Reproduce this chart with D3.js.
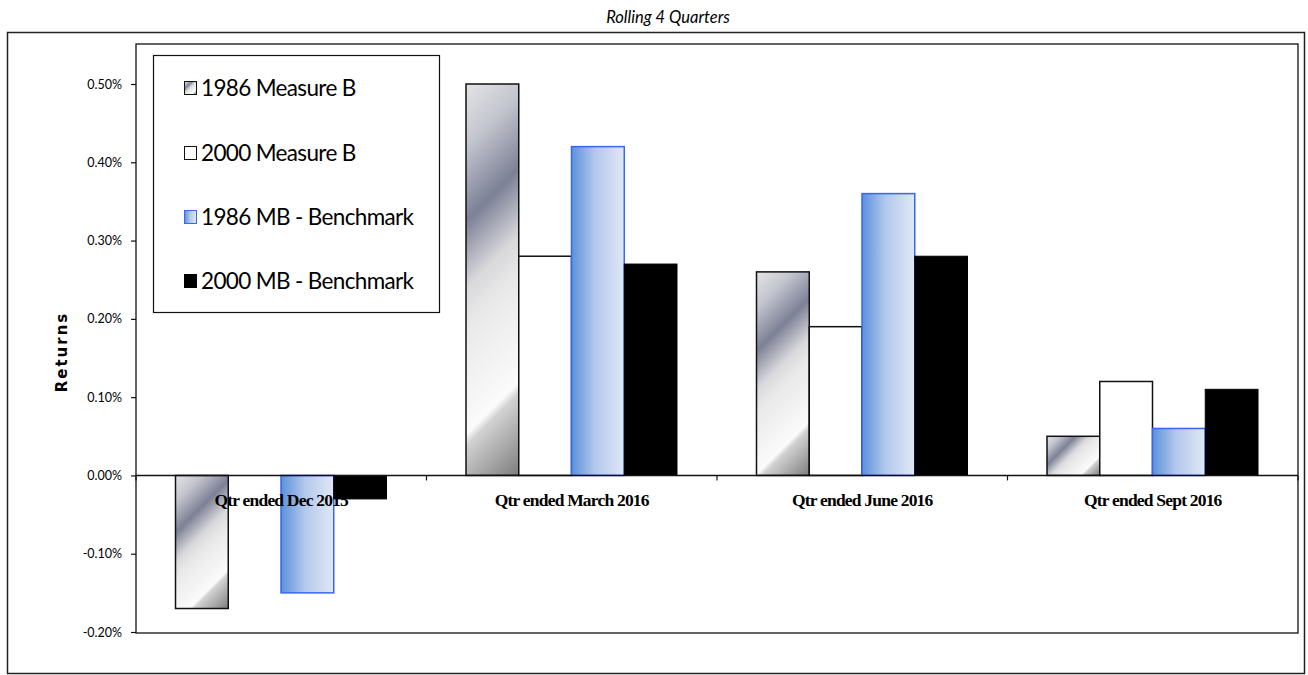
<!DOCTYPE html>
<html>
<head>
<meta charset="utf-8">
<script src="https://cdn.jsdelivr.net/npm/d3@7"></script>
<style>
  html, body { margin: 0; padding: 0; background: #fff; }
  svg { display: block; }
</style>
</head>
<body>
<svg id="chart" width="1308" height="675"></svg>
<script>
// Quarterly rolling returns (in percent)
const categories = ["Qtr ended Dec 2015", "Qtr ended March 2016", "Qtr ended June 2016", "Qtr ended Sept 2016"];
const seriesNames = ["1986 Measure B", "2000 Measure B", "1986 MB - Benchmark", "2000 MB - Benchmark"];
const measureB1986 = [-0.17, 0.50, 0.26, 0.05];
const measureB2000 = [0.00, 0.28, 0.19, 0.12];
const benchmark1986 = [-0.15, 0.42, 0.36, 0.06];
const benchmark2000 = [-0.03, 0.27, 0.28, 0.11];
const yTicks = [-0.2, -0.1, 0.0, 0.1, 0.2, 0.3, 0.4, 0.5];

const seriesValues = [measureB1986, measureB2000, benchmark1986, benchmark2000];

const svg = d3.select("#chart");
const defs = svg.append("defs");

const plot = { left: 136, top: 44, right: 1298, bottom: 633 };

// Outer chart frame
svg.append("rect")
  .attr("x", 7.5).attr("y", 32.5).attr("width", 1297).attr("height", 641)
  .attr("fill", "#fff").attr("stroke", "#222").attr("stroke-width", 1.5);

// Title
svg.append("text")
  .attr("x", 668).attr("y", 23)
  .attr("text-anchor", "middle")
  .attr("font-family", "Lato, 'Open Sans', sans-serif")
  .attr("font-style", "italic")
  .attr("font-size", 16.5)
  .attr("fill", "#000")
  .text("Rolling 4 Quarters");

// Scales
const y = d3.scaleLinear().domain([-0.2, 0.5]).range([632, 84]);
const x0 = d3.scaleBand().domain(categories).range([plot.left, plot.right]).padding(0);
const x1 = d3.scaleBand().domain(seriesNames).range([39.5, 250.5]).padding(0);

// Plot-area frame
svg.append("rect")
  .attr("x", plot.left).attr("y", plot.top)
  .attr("width", plot.right - plot.left).attr("height", plot.bottom - plot.top)
  .attr("fill", "none").attr("stroke", "#111").attr("stroke-width", 1.3);

// Y axis
const yAxis = d3.axisLeft(y)
  .tickValues(yTicks)
  .tickSize(5)
  .tickPadding(9)
  .tickFormat(d => d.toFixed(2) + "%");
const yg = svg.append("g").attr("transform", `translate(${plot.left},0)`).call(yAxis);
yg.select(".domain").remove();
yg.selectAll(".tick line").attr("stroke", "#111").attr("stroke-width", 1.2);
yg.selectAll(".tick text")
  .attr("font-family", "Lato, 'Open Sans', sans-serif")
  .attr("font-size", 12.5)
  .attr("fill", "#000");

// Axis title
svg.append("text")
  .attr("transform", `translate(67,352) rotate(-90)`)
  .attr("text-anchor", "middle")
  .attr("font-family", "'DejaVu Sans', sans-serif")
  .attr("font-weight", "bold")
  .attr("font-size", 15)
  .attr("letter-spacing", 2)
  .attr("fill", "#000")
  .text("Returns");

// Gradient helpers
function chromeGradient(id, gx, gy, w, h) {
  const d = (w + h) / 2;
  const g = defs.append("linearGradient")
    .attr("id", id)
    .attr("gradientUnits", "userSpaceOnUse")
    .attr("x1", gx).attr("y1", gy)
    .attr("x2", gx + d).attr("y2", gy + d);
  const stops = [
    [0, "#e4e4e6"], [0.14, "#c4c6cf"], [0.31, "#7d8196"], [0.46, "#d9d9dc"],
    [0.55, "#e9e9e9"], [0.79, "#fbfbfb"], [0.815, "#d2d2d2"], [1, "#7d7d7d"]
  ];
  stops.forEach(([o, c]) => g.append("stop").attr("offset", o).attr("stop-color", c));
}
function blueGradient(id) {
  const g = defs.append("linearGradient")
    .attr("id", id)
    .attr("x1", 0).attr("y1", 0).attr("x2", 1).attr("y2", 0);
  [[0, "#5b91db"], [0.45, "#b3c8ec"], [1, "#e0e8f6"]]
    .forEach(([o, c]) => g.append("stop").attr("offset", o).attr("stop-color", c));
}
blueGradient("blueGrad");

const seriesStyle = [
  { fill: (id) => `url(#${id})`, stroke: "#111", sw: 1.5 },
  { fill: () => "#fff", stroke: "#111", sw: 1.5 },
  { fill: () => "url(#blueGrad)", stroke: "#3568f2", sw: 1.5 },
  { fill: () => "#000", stroke: "#000", sw: 1 }
];

// Bars
const barData = [];
categories.forEach((c, ci) => {
  seriesNames.forEach((s, si) => {
    barData.push({ cat: c, ci, series: s, si, value: seriesValues[si][ci] });
  });
});

const bars = svg.append("g").attr("class", "bars");
barData.forEach(d => {
  const bx = x0(d.cat) + x1(d.series);
  const bw = x1.bandwidth();
  const top = Math.min(y(d.value), y(0));
  const bh = Math.abs(y(d.value) - y(0));
  let fill;
  if (d.si === 0) {
    const gid = `chrome-${d.ci}`;
    chromeGradient(gid, bx, top, bw, bh);
    fill = seriesStyle[0].fill(gid);
  } else {
    fill = seriesStyle[d.si].fill();
  }
  bars.append("rect")
    .attr("x", bx).attr("y", top)
    .attr("width", bw).attr("height", bh)
    .attr("fill", fill)
    .attr("stroke", seriesStyle[d.si].stroke)
    .attr("stroke-width", seriesStyle[d.si].sw);
});

// Category axis at zero
svg.append("line")
  .attr("x1", plot.left).attr("x2", plot.right)
  .attr("y1", y(0)).attr("y2", y(0))
  .attr("stroke", "#111").attr("stroke-width", 1.5);
const catEdges = categories.map(c => x0(c)).concat([plot.right]);
svg.append("g").selectAll("line").data(catEdges).join("line")
  .attr("x1", d => d).attr("x2", d => d)
  .attr("y1", y(0)).attr("y2", y(0) + 5)
  .attr("stroke", "#111").attr("stroke-width", 1.2);

// Category labels
svg.append("g").selectAll("text").data(categories).join("text")
  .attr("x", d => x0(d) + x0.bandwidth() / 2)
  .attr("y", 506)
  .attr("text-anchor", "middle")
  .attr("font-family", "'Liberation Serif', 'Times New Roman', serif")
  .attr("font-weight", "bold")
  .attr("font-size", 17.5)
  .attr("letter-spacing", -0.8)
  .attr("fill", "#000")
  .text(d => d);

// Legend
const legend = svg.append("g");
legend.append("rect")
  .attr("x", 153.5).attr("y", 55.5).attr("width", 286).attr("height", 257)
  .attr("fill", "#fff").attr("stroke", "#111").attr("stroke-width", 1.2);
const rowY = [88, 153, 217, 281];
chromeGradient("chrome-legend", 184, rowY[0] - 6.5, 13, 13);
seriesNames.forEach((s, i) => {
  const fill = i === 0 ? "url(#chrome-legend)" : seriesStyle[i].fill();
  legend.append("rect")
    .attr("x", 184.5).attr("y", rowY[i] - 6.5)
    .attr("width", 12).attr("height", 13)
    .attr("fill", fill)
    .attr("stroke", seriesStyle[i].stroke)
    .attr("stroke-width", 1);
  legend.append("text")
    .attr("x", 201).attr("y", rowY[i])
    .attr("dy", "0.35em")
    .attr("font-family", "Lato, 'Open Sans', sans-serif")
    .attr("font-size", 22.5)
    .attr("letter-spacing", -0.65)
    .attr("fill", "#000")
    .text(s);
});
</script>
</body>
</html>
